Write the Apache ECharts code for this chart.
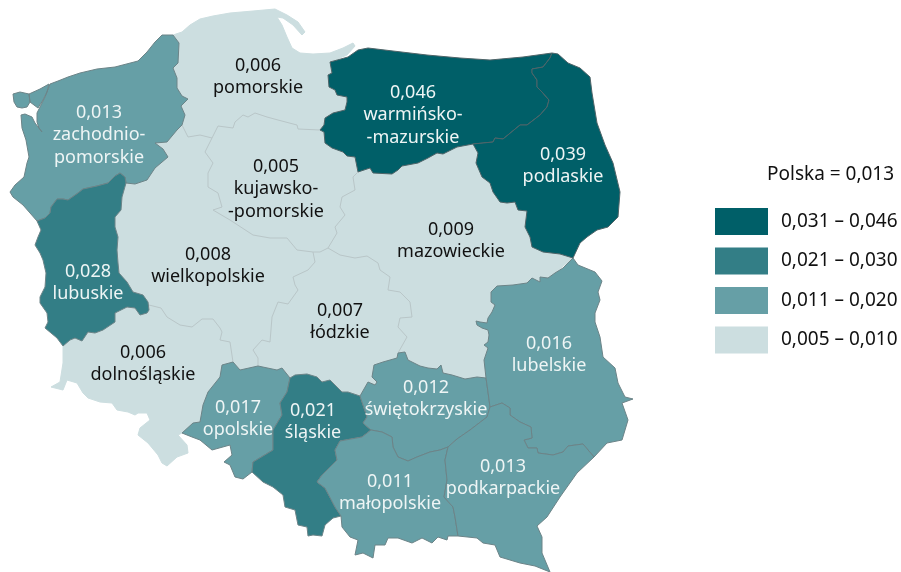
<!DOCTYPE html>
<html>
<head>
<meta charset="utf-8">
<style>
  html, body { margin: 0; padding: 0; background: #fff; }
  #main { width: 901px; height: 572px; }
</style>
<script src="https://cdn.jsdelivr.net/npm/echarts@6/dist/echarts.min.js"></script>
</head>
<body>
<div id="main"></div>
<script>
// dane z rysunku
const regionNames = ['dolnośląskie','wielkopolskie','kujawsko-pomorskie','pomorskie','łódzkie','mazowieckie',
  'zachodniopomorskie','lubuskie','opolskie','śląskie','świętokrzyskie','lubelskie','małopolskie','podkarpackie',
  'warmińsko-mazurskie','podlaskie'];
const regionValues = [0.006,0.008,0.005,0.006,0.007,0.009,0.013,0.028,0.017,0.021,0.012,0.016,0.011,0.013,0.046,0.039];
const regionLabels = ['dolnośląskie','wielkopolskie','kujawsko-\n-pomorskie','pomorskie','łódzkie','mazowieckie',
  'zachodnio-\npomorskie','lubuskie','opolskie','śląskie','świętokrzyskie','lubelskie','małopolskie','podkarpackie',
  'warmińsko-\n-mazurskie','podlaskie'];
const classLabels = ['0,031 – 0,046','0,021 – 0,030','0,011 – 0,020','0,005 – 0,010'];
const classMin = [0.031,0.021,0.011,0.005];
const classMax = [0.046,0.030,0.020,0.010];
const classColors = ['#005f68','#337e86','#669fa6','#ccdee0'];
const polskaText = 'Polska = 0,013';

// granice województw obrysowane z obrazka (piksele), wspólne odcinki tylko raz
const zpCoast = [[50,84],[58,81],[68,77],[80,73],[97,69],[115,67],[138,61],[147,52],[155,42],[162,35],[173,35]];
const zpPom = [[182,125],[185,115],[181,106],[188,99],[182,96],[177,88],[177,78],[173,68],[178,63],[179,43],[173,35]];
const zpWlk = [[182,125],[177,130],[167,142],[155,143],[163,149],[168,157],[155,168],[147,180],[135,184],[126,183]];
const zpLub = [[37,221],[45,218],[50,213],[51,207],[57,199],[63,199],[68,200],[78,193],[83,189],[97,186],[108,183],[115,176],[120,173],[125,177],[126,183]];
const zpWest = [[37,221],[23,205],[13,197],[10,192],[15,185],[24,177],[27,163],[29,157],[26,140],[22,128],[21,115],[25,114],[32,117],[35,123],[42,132],[39,128],[37,122],[37,113],[45,97],[50,84]];
const usedom = [[13,94],[20,92],[29,94],[30,102],[27,107],[22,108],[17,107],[14,102]];
const wolin = [[29,94],[40,89],[49,84],[47,92],[43,100],[38,108],[30,102]];
const pomCoast = [[173,35],[182,32],[190,25],[200,19],[213,16],[230,13],[253,11],[275,9],[287,15],[298,22],[305,32],[302,35],[293,25],[283,18],[277,17],[282,25],[287,37],[292,48],[300,53],[313,54],[330,53],[343,48],[353,43],[355,46],[347,55],[335,60],[330,62]];
const pomWarm = [[330,62],[332,73],[328,75],[329,87],[335,90],[337,95],[347,97],[347,102],[345,110],[333,113],[325,118],[324,125],[320,130]];
const pomWlk = [[182,125],[188,137],[200,135],[212,138]];
const kujPom = [[212,138],[218,126],[233,128],[235,122],[243,115],[248,117],[255,113],[267,117],[278,120],[297,125],[298,129],[320,130]];
const warmKuj = [[320,130],[324,132],[325,143],[332,148],[343,152],[347,156],[355,157],[358,172]];
const warmMaz = [[358,172],[370,168],[373,173],[392,174],[398,170],[402,166],[418,163],[428,158],[437,153],[443,154],[457,147],[473,144]];
const warmPod = [[473,144],[493,142],[495,138],[503,139],[520,125],[527,125],[540,115],[547,107],[549,100],[542,92],[537,87],[537,80],[532,73],[532,69],[543,67],[550,58],[552,53]];
const warmCoast = [[552,53],[523,57],[490,60],[460,58],[427,55],[393,51],[368,48],[358,50],[348,57],[330,62]];
const podOuter = [[552,53],[558,54],[568,63],[580,68],[590,77],[592,93],[597,123],[605,145],[613,163],[620,192],[618,217],[608,227],[597,230],[587,237],[580,243],[573,258]];
const podMaz = [[473,144],[478,153],[476,163],[482,177],[490,183],[493,192],[500,202],[507,203],[515,202],[518,210],[527,211],[525,227],[530,237],[532,247],[543,252],[560,254],[573,258]];
const mazLub = [[573,258],[562,267],[563,268],[555,273],[548,278],[540,277],[540,282],[532,278],[527,283],[513,285],[497,286],[491,292],[491,302],[495,305],[492,312],[488,318],[487,323],[480,322],[476,321],[477,325],[482,328],[488,330],[489,335],[488,342],[484,345],[488,348],[484,360],[486,378]];
const mazSwi = [[486,378],[477,377],[465,379],[452,375],[443,373],[441,365],[437,369],[428,368],[420,366],[408,360],[405,352],[398,353]];
const kujMaz = [[358,172],[353,177],[355,190],[342,197],[340,207],[345,215],[335,227],[337,233],[328,248]];
const kujLod = [[328,248],[320,252],[313,252]];
const kujWlk = [[212,138],[205,152],[213,163],[208,173],[208,187],[218,193],[222,207],[213,210],[230,220],[253,235],[270,238],[287,238],[297,250],[313,252]];
const lodWlk = [[313,252],[315,262],[308,270],[293,277],[295,285],[298,290],[288,304],[278,302],[272,317],[270,342],[262,340],[253,350],[258,358],[258,366]];
const lodMaz = [[328,248],[340,255],[355,258],[367,256],[378,263],[380,270],[390,277],[388,290],[400,292],[410,302],[412,317],[400,318],[398,327],[407,337],[398,353]];
const lodSwi = [[398,353],[397,358],[383,362],[374,365],[372,377],[377,382],[375,385],[368,382],[360,396]];
const lodSla = [[360,396],[348,392],[342,392],[338,388],[330,380],[322,382],[317,377],[307,374],[295,375],[290,378]];
const lodOpo = [[290,378],[282,368],[277,370],[258,366]];
const opoWlk = [[258,366],[240,370],[233,362]];
const slaSwi = [[360,396],[363,405],[367,417],[363,423],[371,430]];
const swiMal = [[371,430],[382,432],[392,437],[393,447],[398,457],[408,461],[417,457],[430,452],[440,450],[448,447]];
const swiPodk = [[448,447],[457,439],[470,430],[487,417],[490,407]];
const lubSwi = [[486,378],[488,392],[490,407]];
const lubPodk = [[490,407],[502,403],[510,408],[510,415],[520,422],[531,427],[532,438],[524,440],[528,448],[537,448],[538,453],[553,455],[563,452],[568,446],[583,444],[594,457]];
const lubOuter = [[573,258],[578,265],[595,272],[602,281],[598,292],[600,300],[595,313],[595,322],[600,337],[603,357],[615,368],[618,383],[625,397],[633,399],[622,403],[628,420],[622,440],[607,443],[594,457]];
const podkOuter = [[594,457],[577,473],[560,497],[547,517],[537,526],[542,537],[542,553],[550,572],[535,566],[520,563],[500,557],[495,545],[483,543],[477,538],[458,536]];
const malPodk = [[448,447],[445,460],[447,480],[444,497],[453,507],[455,517],[458,536]];
const malOuter = [[458,536],[448,536],[447,540],[438,537],[432,543],[422,538],[412,543],[398,538],[388,538],[385,545],[375,545],[373,558],[363,553],[355,555],[358,540],[350,537],[342,527],[341,516]];
const slaMal = [[371,430],[362,437],[340,441],[335,450],[337,460],[322,475],[317,482],[325,488],[335,507],[341,516]];
const slaOuter = [[341,516],[333,518],[325,525],[322,536],[313,535],[308,536],[307,527],[298,525],[295,510],[285,507],[283,495],[273,487],[263,482],[252,472]];
const slaOpo = [[290,378],[287,392],[280,403],[282,415],[273,430],[273,450],[253,462],[252,472]];
const opoOuter = [[252,472],[243,479],[235,477],[230,465],[224,462],[232,455],[230,445],[212,450],[200,440],[192,437],[182,433]];
const opoDol = [[182,433],[193,423],[200,422],[203,405],[208,392],[220,377],[222,365],[233,362]];
const dolOuter = [[182,433],[178,435],[187,445],[188,453],[177,457],[167,466],[162,463],[158,455],[148,443],[138,435],[140,428],[150,420],[147,413],[138,413],[135,415],[128,412],[117,410],[112,403],[100,402],[88,398],[83,393],[77,383],[67,380],[63,390],[51,387],[60,382],[63,363],[63,346]];
const dolLub = [[63,346],[70,340],[75,338],[82,341],[88,332],[95,333],[103,330],[115,322],[115,313],[127,307],[135,308],[140,315],[147,313]];
const dolWlk = [[147,313],[149,305],[161,308],[167,317],[180,325],[192,327],[202,319],[213,319],[220,328],[222,332],[220,340],[230,342],[233,362]];
const lubWlk = [[126,183],[122,197],[121,210],[115,217],[115,227],[118,237],[117,250],[118,263],[119,273],[127,282],[133,292],[143,295],[148,302],[149,310],[147,313]];
const lubWest = [[37,221],[41,230],[38,237],[35,245],[40,253],[43,260],[46,273],[45,287],[40,297],[40,303],[47,313],[48,322],[45,328],[57,338],[63,346]];

const r = seg => seg.slice().reverse();
const ring = (...segs) => segs.flat();

const regionRings = {
  'dolnośląskie': [ring(dolOuter, dolLub, dolWlk, r(opoDol))],
  'wielkopolskie': [ring(pomWlk, kujWlk, lodWlk, opoWlk, r(dolWlk), r(lubWlk), r(zpWlk))],
  'kujawsko-pomorskie': [ring(kujPom, warmKuj, kujMaz, kujLod, r(kujWlk))],
  'pomorskie': [ring(pomCoast, pomWarm, r(kujPom), r(pomWlk), zpPom)],
  'łódzkie': [ring(r(kujLod), lodMaz, lodSwi, lodSla, lodOpo, r(lodWlk))],
  'mazowieckie': [ring(warmMaz, podMaz, mazLub, mazSwi, r(lodMaz), r(kujMaz))],
  'zachodniopomorskie': [ring(zpCoast, r(zpPom), zpWlk, r(zpLub), zpWest), usedom, wolin],
  'lubuskie': [ring(zpLub, lubWlk, r(dolLub), r(lubWest))],
  'opolskie': [ring(slaOpo, opoOuter, opoDol, r(opoWlk), r(lodOpo))],
  'śląskie': [ring(r(lodSla), slaSwi, slaMal, slaOuter, r(slaOpo))],
  'świętokrzyskie': [ring(r(mazSwi), lubSwi, r(swiPodk), r(swiMal), r(slaSwi), r(lodSwi))],
  'lubelskie': [ring(lubOuter, r(lubPodk), r(lubSwi), r(mazLub))],
  'małopolskie': [ring(swiMal, malPodk, malOuter, r(slaMal))],
  'podkarpackie': [ring(swiPodk, lubPodk, podkOuter, r(malPodk))],
  'warmińsko-mazurskie': [ring(pomWarm, warmKuj, warmMaz, warmPod, warmCoast)],
  'podlaskie': [ring(warmPod, podOuter, r(podMaz))]
};
// środki podpisów
const labelCenters = {
  'dolnośląskie':[143,364],'wielkopolskie':[208,266],'kujawsko-pomorskie':[276,189],'pomorskie':[258,77],
  'łódzkie':[340,322],'mazowieckie':[451,241],'zachodniopomorskie':[99,135],'lubuskie':[88,283],
  'opolskie':[238,419],'śląskie':[313,422],'świętokrzyskie':[426,399],'lubelskie':[549,355],
  'małopolskie':[390,493],'podkarpackie':[503,478],'warmińsko-mazurskie':[413,115],'podlaskie':[563,166]
};

const flipY = pts => pts.map(p => [p[0], -p[1]]);
const features = regionNames.map(name => ({
  type: 'Feature',
  properties: { name: name, cp: flipY([labelCenters[name]])[0] },
  geometry: { type: 'MultiPolygon', coordinates: regionRings[name].map(x => [flipY(x)]) }
}));
// jasne granice między województwami z najniższej klasy, bez obrysu zewnętrznego
features.splice(6, 0, {
  type: 'Feature',
  properties: { name: 'granice', cp: [0, 0] },
  geometry: { type: 'MultiLineString', coordinates: [pomWlk, kujPom, kujWlk, kujMaz, kujLod, lodWlk, lodMaz, dolWlk].map(flipY) }
});
echarts.registerMap('polska', { type: 'FeatureCollection', features: features });

function classIndex(v) {
  return classMin.findIndex((m, i) => v >= m && v <= classMax[i]);
}
const textFont = '"Noto Sans", sans-serif';
const chart = echarts.init(document.getElementById('main'));
chart.setOption({
  backgroundColor: '#fff',
  animation: false,
  title: {
    text: polskaText, left: 767, top: 165, padding: 0,
    textStyle: { fontFamily: textFont, fontSize: 19, fontWeight: 'normal', color: '#111' }
  },
  visualMap: {
    type: 'piecewise',
    left: 715, top: 208, padding: 0,
    align: 'left',
    itemWidth: 53, itemHeight: 27, itemGap: 12.5, textGap: 13,
    itemSymbol: 'rect',
    selectedMode: false, hoverLink: false,
    seriesIndex: 0,
    textStyle: { fontFamily: textFont, fontSize: 19, color: '#111' },
    pieces: classLabels.map((t, i) => ({ min: classMin[i], max: classMax[i], label: t, color: classColors[i] }))
  },
  series: [{
    type: 'map',
    map: 'polska',
    aspectScale: 1,
    roam: false,
    left: 0, top: 0, width: 901, height: 572,
    boundingCoords: [[0, 0], [901, -572]],
    selectedMode: false,
    silent: true,
    emphasis: { disabled: true },
    itemStyle: { areaColor: '#b9c6c8', borderColor: '#b9c6c8', borderWidth: 1 },
    label: {
      show: true,
      fontFamily: textFont, fontSize: 18, lineHeight: 22.5,
      formatter: p => {
        const i = regionNames.indexOf(p.name);
        return i < 0 ? '' : regionValues[i].toFixed(3).replace('.', ',') + '\n' + regionLabels[i];
      }
    },
    data: regionNames.map((name, i) => {
      const c = classIndex(regionValues[i]);
      return {
        name: name,
        value: regionValues[i],
        itemStyle: {
          borderColor: c === 3 ? classColors[3] : (c === 0 ? '#4f6468' : '#6c8488'),
          borderWidth: 1
        },
        label: { color: c === 3 ? '#111' : '#eef5f5' }
      };
    })
  }]
});
</script>
</body>
</html>
